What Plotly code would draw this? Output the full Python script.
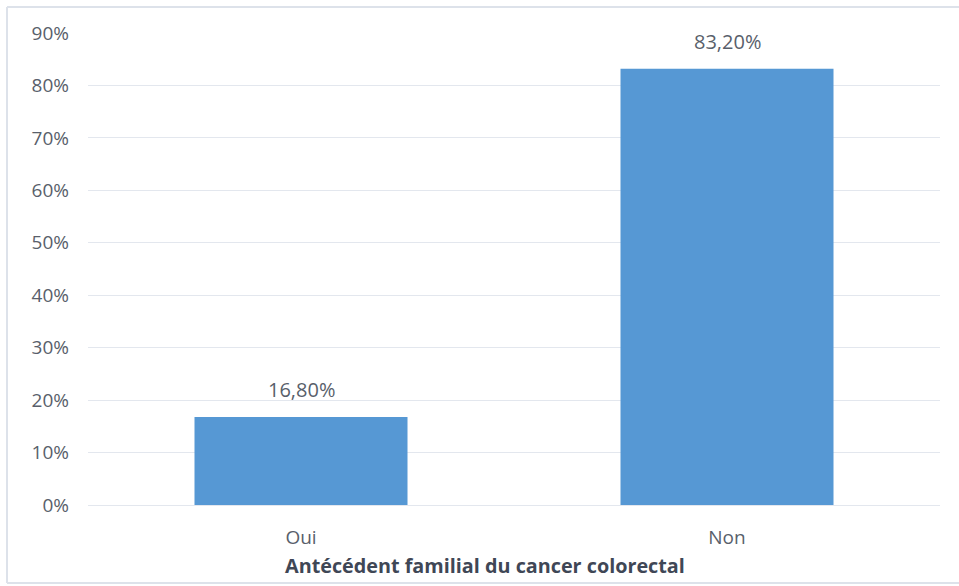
import plotly.graph_objects as go

# Family history of colorectal cancer (% of patients)
categories = ["Oui", "Non"]
values = [16.8, 83.2]
y_ticks = [0, 10, 20, 30, 40, 50, 60, 70, 80, 90]
x_title = "Antécédent familial du cancer colorectal"

text_color = "#595f6b"
grid_color = "#e3e7ee"
border_color = "#dde2ea"

labels = [f"{v:.2f}%".replace(".", ",") for v in values]

fig = go.Figure()
fig.add_trace(go.Bar(
    x=categories,
    y=values,
    marker=dict(color="#5698d4", line=dict(width=0)),
    width=0.5,
    hoverinfo="skip",
))

for cat, v, lab in zip(categories, values, labels):
    fig.add_annotation(
        x=cat, y=v, text=lab, showarrow=False,
        yanchor="bottom", yshift=12,
        font=dict(family="Open Sans", size=20, color=text_color),
    )

W, H = 959, 586
ml, mr, mt, mb = 88, 19, 33, 81
pw, ph = W - ml - mr, H - mt - mb

# Axis title centred on the whole chart area
fig.add_annotation(
    xref="paper", yref="paper",
    x=(485 - ml) / pw, y=(H - mb - 565) / ph,
    text=f"<b>{x_title}</b>", showarrow=False,
    xanchor="center", yanchor="middle",
    font=dict(family="Open Sans", size=19.8, color="#3f4756"),
)

# Chart-area frame (left, top and bottom edges)
x_left = (7 - ml) / pw
x_right = (W - ml) / pw
y_top = (H - mb - 7) / ph
y_bot = (H - mb - 583) / ph
for x0, y0, x1, y1 in [(x_left, y_bot, x_left, y_top),
                       (x_left, y_top, x_right, y_top),
                       (x_left, y_bot, x_right, y_bot)]:
    fig.add_shape(type="line", xref="paper", yref="paper",
                  x0=x0, y0=y0, x1=x1, y1=y1,
                  line=dict(color=border_color, width=2))

fig.update_layout(
    width=W, height=H,
    margin=dict(l=ml, r=mr, t=mt, b=mb),
    paper_bgcolor="white",
    plot_bgcolor="white",
    showlegend=False,
    font=dict(family="Open Sans", color=text_color),
    xaxis=dict(
        tickfont=dict(size=19, color=text_color),
        showgrid=False, showline=False, zeroline=False,
        ticks="", ticklabelstandoff=19,
    ),
    yaxis=dict(
        range=[0, 90],
        tickvals=y_ticks,
        ticktext=[f"{t}%" for t in y_ticks],
        tickfont=dict(size=19, color=text_color),
        showgrid=True, gridcolor=grid_color, gridwidth=1,
        zeroline=True, zerolinecolor=grid_color, zerolinewidth=1,
        showline=False, ticks="", ticklabelstandoff=18,
    ),
)

fig.write_html("out.html")
